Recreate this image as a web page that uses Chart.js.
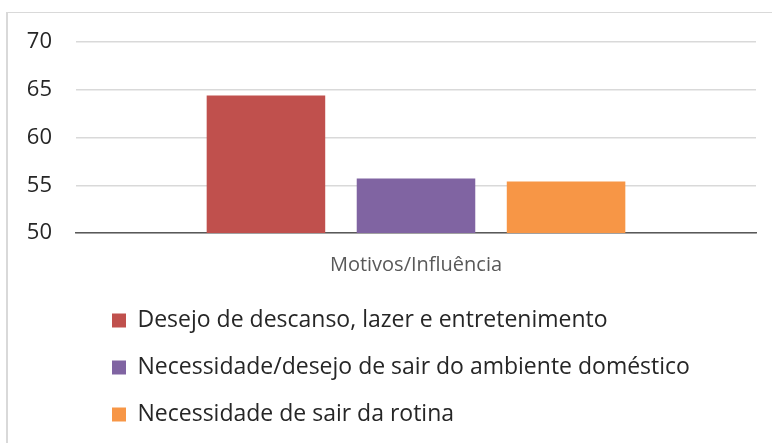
<!DOCTYPE html>
<html>
<head>
<meta charset="utf-8">
<script src="https://cdn.jsdelivr.net/npm/chart.js@4/dist/chart.umd.min.js"></script>
<style>
  html, body { margin: 0; padding: 0; background: #fff; }
  #wrap { position: relative; width: 772px; height: 443px; overflow: hidden; }
  #frame { position: absolute; left: 6px; top: 12px; width: 900px; height: 600px;
           border-top: 1px solid #d9d9d9; border-left: 2px solid #d9d9d9; }
  canvas { position: absolute; left: 0; top: 0; }
</style>
</head>
<body>
<div id="wrap">
  <div id="frame"></div>
  <canvas id="chart" width="772" height="443"></canvas>
</div>
<script>
// data
const categories = ["Motivos/Influência"];
const seriesNames = [
  "Desejo de descanso, lazer e entretenimento",
  "Necessidade/desejo de sair do ambiente doméstico",
  "Necessidade de sair da rotina"
];
const seriesValues = [[64.4], [55.7], [55.4]];
const seriesColors = ["#C0504D", "#8064A2", "#F79646"];
const yTicks = [50, 55, 60, 65, 70];

const FONT = "'Open Sans', Lato, sans-serif";

// move the legend so the rows start under the bars, like the original
const legendShift = {
  id: "legendShift",
  afterLayout(chart) {
    const lg = chart.legend;
    const pad = lg.options.labels.padding;
    lg.left = 112 - pad;
    lg.top -= 3;
  }
};

const datasets = seriesNames.map((name, i) => ({
  label: name,
  data: seriesValues[i],
  backgroundColor: seriesColors[i],
  borderWidth: 0,
  barPercentage: 0.79,
  categoryPercentage: 0.662
}));

new Chart(document.getElementById("chart"), {
  type: "bar",
  data: { labels: categories, datasets: datasets },
  plugins: [legendShift],
  options: {
    responsive: false,
    animation: false,
    layout: { padding: { top: 42, right: 16, bottom: 4, left: 0 } },
    plugins: {
      tooltip: { enabled: false },
      legend: {
        position: "bottom",
        align: "start",
        labels: {
          color: "#262626",
          font: { family: FONT, size: 23 },
          boxWidth: 14,
          boxHeight: 14,
          padding: 24
        }
      }
    },
    scales: {
      x: {
        afterFit(scale) { scale.height -= 9; },
        grid: { display: false, drawTicks: false },
        border: { color: "#595959", width: 1.5 },
        ticks: { color: "#595959", font: { family: FONT, size: 20 }, padding: 20 }
      },
      y: {
        min: 50,
        max: 70,
        afterFit(scale) { scale.width = 76; },
        afterBuildTicks(scale) { scale.ticks = yTicks.map(v => ({ value: v })); },
        grid: { color: "#d9d9d9", lineWidth: 1.5, drawTicks: false },
        border: { display: false },
        ticks: { color: "#262626", font: { family: FONT, size: 22 }, padding: 24 }
      }
    }
  }
});
</script>
</body>
</html>
